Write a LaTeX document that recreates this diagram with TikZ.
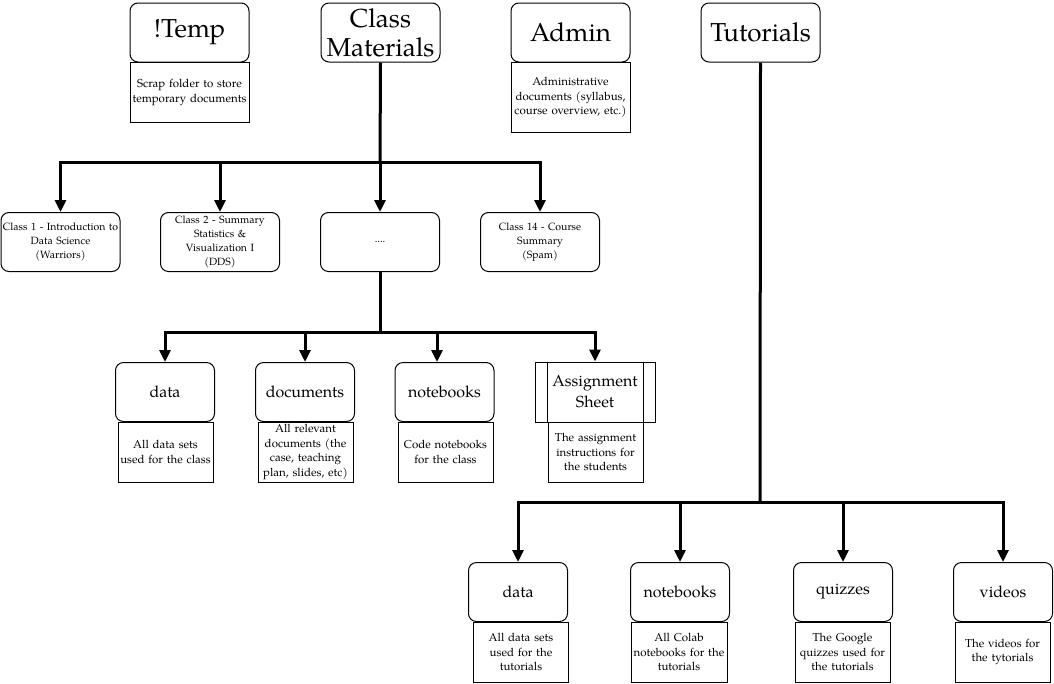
\documentclass[tikz,border=0pt]{standalone}
\usepackage{fontspec}
\setmainfont{TeX Gyre Pagella}
\usetikzlibrary{arrows.meta}
\tikzset{
  box/.style={draw, line width=1pt},
  title/.style={box, rounded corners=8pt, minimum width=119pt, minimum height=59pt, inner sep=1pt, align=center, font=\fontsize{26}{29}\selectfont},
  cls/.style={box, rounded corners=8pt, minimum width=119pt, minimum height=59pt, inner sep=1pt, align=center, text width=117pt, font=\fontsize{10.5}{14}\selectfont},
  fold/.style={box, rounded corners=8pt, minimum width=99pt, minimum height=59pt, inner sep=1pt, align=center, font=\fontsize{16}{21}\selectfont},
  desc/.style={box, minimum height=60pt, inner sep=1pt, align=center, font=\fontsize{11.5}{14.5}\selectfont},
  conn/.style={line width=3pt},
  arr/.style={line width=3pt, -{Triangle[width=11pt,length=12pt]}},
}
\begin{document}
\begin{tikzpicture}[x=1pt,y=-1pt]
\useasboundingbox (0,0) rectangle (1054,683);
% top row
\node[title] (temp) at (189.5,32.5) {!Temp};
\node[desc, minimum width=119pt, text width=117pt, minimum height=60pt] (tempd) at (189.5,92.5) {Scrap folder to store\\temporary documents};
\node[title] (cm) at (380.5,32.5) {Class\\Materials};
\node[title] (admin) at (570.5,32.5) {Admin};
\node[desc, minimum width=119pt, text width=117pt, minimum height=70pt] (admind) at (570.5,97.5) {Administrative\\documents (syllabus,\\course overview, etc.)};
\node[title] (tut) at (760.5,32.5) {Tutorials};
% class row
\node[cls] (c1) at (60.5,242) {Class 1 - Introduction to\\Data Science\\(Warriors)};
\node[cls] (c2) at (220,242) {Class 2 - Summary\\Statistics \&\\Visualization I\\(DDS)};
\node[cls] (cd) at (380,242) {....};
\node[cls] (c14) at (540,242) {Class 14 - Course\\Summary\\(Spam)};
\coordinate (j1) at (380,162);
\draw[conn] (cm.south) -- (j1);
\draw[arr] (j1) -| (c1.north);
\draw[arr] (j1) -| (c2.north);
\draw[arr] (j1) -- (cd.north);
\draw[arr] (j1) -| (c14.north);
% class folders
\node[fold] (data) at (165,392) {data};
\node[desc, minimum width=95pt, text width=93pt] (datad) at (165.5,452) {All data sets\\used for the class};
\node[fold] (docs) at (305,392) {documents};
\node[desc, minimum width=95pt, text width=93pt] (docsd) at (305.5,452) {All relevant\\documents (the\\case, teaching\\plan, slides, etc)};
\node[fold] (nb) at (444.5,392) {notebooks};
\node[desc, minimum width=95pt, text width=93pt] (nbd) at (445.5,452) {Code notebooks\\for the class};
\node[box, minimum width=120pt, minimum height=60pt, inner sep=1pt, align=center, font=\fontsize{16}{21}\selectfont] (as) at (595,392) {Assignment\\Sheet};
\draw[line width=1pt] ([xshift=13pt]as.north west) -- ([xshift=13pt]as.south west);
\draw[line width=1pt] ([xshift=-12pt]as.north east) -- ([xshift=-12pt]as.south east);
\node[desc, minimum width=95pt, text width=93pt] (asd) at (595.5,452) {The assignment\\instructions for\\the students};
\coordinate (j2) at (380,332);
\draw[conn] (cd.south) -- (j2);
\draw[arr] (j2) -| (data.north);
\draw[arr] (j2) -| (docs.north);
\draw[arr] (j2) -| ([xshift=-7.5pt]nb.north);
\draw[arr] (j2) -| (as.north);
% tutorials folders
\node[fold] (tdata) at (518,592) {data};
\node[desc, minimum width=95pt, text width=93pt] (tdatad) at (521,652) {All data sets\\used for the\\tutorials};
\node[fold] (tnb) at (680,592) {notebooks};
\node[desc, minimum width=96pt, text width=94pt] (tnbd) at (679,652) {All Colab\\notebooks for the\\tutorials};
\node[fold] (tq) at (843,592) {quizzes};
\node[desc, minimum width=95pt, text width=93pt] (tqd) at (842.5,652) {The Google\\quizzes used for\\the tutorials};
\node[fold] (tv) at (1003,592) {videos};
\node[desc, minimum width=95pt, text width=93pt] (tvd) at (1002.5,652) {The videos for\\the tytorials};
\coordinate (j3) at (760,502);
\draw[conn] (tut.south) -- (j3);
\draw[arr] (j3) -| (tdata.north);
\draw[arr] (j3) -| (tnb.north);
\draw[arr] (j3) -| (tq.north);
\draw[arr] (j3) -| (tv.north);
\end{tikzpicture}
\end{document}
